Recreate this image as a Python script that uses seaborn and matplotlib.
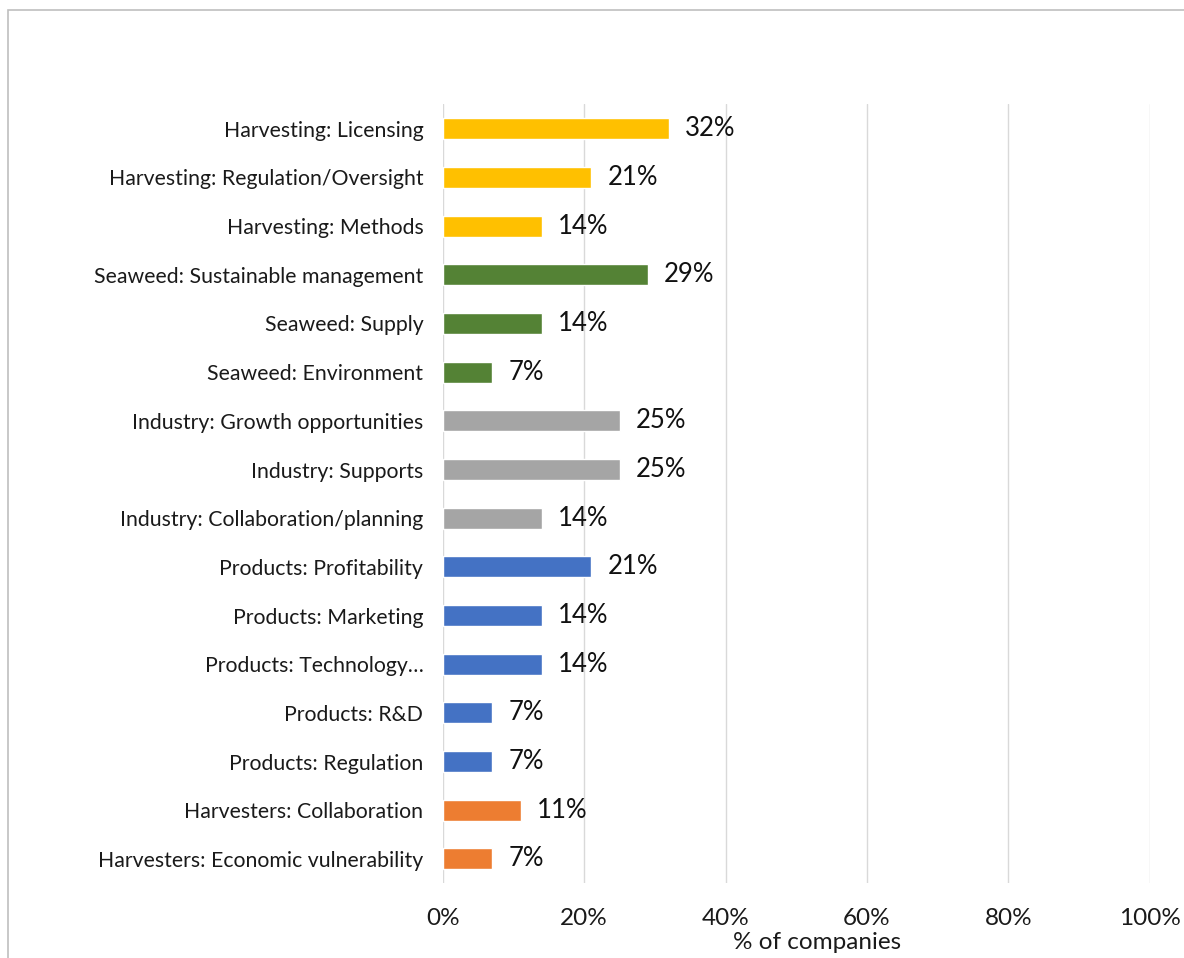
import matplotlib
matplotlib.use("Agg")
import matplotlib.pyplot as plt
from matplotlib.patches import Rectangle
from matplotlib.ticker import FuncFormatter
import seaborn as sns
import pandas as pd

categories = [
    "Harvesting: Licensing",
    "Harvesting: Regulation/Oversight",
    "Harvesting: Methods",
    "Seaweed: Sustainable management",
    "Seaweed: Supply",
    "Seaweed: Environment",
    "Industry: Growth opportunities",
    "Industry: Supports",
    "Industry: Collaboration/planning",
    "Products: Profitability",
    "Products: Marketing",
    "Products: Technology\u2026",
    "Products: R&D",
    "Products: Regulation",
    "Harvesters: Collaboration",
    "Harvesters: Economic vulnerability",
]
values = [32, 21, 14, 29, 14, 7, 25, 25, 14, 21, 14, 14, 7, 7, 11, 7]
groups = ["Harvesting"] * 3 + ["Seaweed"] * 3 + ["Industry"] * 3 + ["Products"] * 5 + ["Harvesters"] * 2
group_colors = {
    "Harvesting": "#FFC000",
    "Seaweed": "#548235",
    "Industry": "#A5A5A5",
    "Products": "#4472C4",
    "Harvesters": "#ED7D31",
}
x_ticks = [0, 20, 40, 60, 80, 100]
x_label = "% of companies"

df = pd.DataFrame({"category": categories, "value": values, "group": groups})

sns.set_theme(style="white")
plt.rcParams["font.family"] = ["Lato", "DejaVu Sans"]

fig = plt.figure(figsize=(11.84, 9.58), dpi=100)
ax = fig.add_axes([0.374, 0.078, 0.597, 0.813])

sns.barplot(
    data=df, y="category", x="value", hue="group", palette=group_colors,
    order=categories, orient="h", dodge=False, width=0.43, legend=False,
    saturation=1, ax=ax,
)

ax.set_xlim(0, 100)
ax.set_ylim(len(categories) - 0.5, -0.5)
ax.set_xticks(x_ticks)
ax.xaxis.set_major_formatter(FuncFormatter(lambda v, _: f"{v:.0f}%"))
ax.grid(axis="x", color="#D9D9D9", linewidth=1.0)
ax.set_axisbelow(True)
for s in ax.spines.values():
    s.set_visible(False)
ax.tick_params(axis="both", length=0)
ax.tick_params(axis="y", labelsize=15.3, labelcolor="#1a1a1a", pad=14)
ax.tick_params(axis="x", labelsize=17.5, labelcolor="#1a1a1a", pad=18)
ax.set_ylabel("")
ax.set_xlabel(x_label, fontsize=17.5, color="#1a1a1a", labelpad=3)
ax.xaxis.set_label_coords(0.529, -0.062)

for i, v in enumerate(values):
    ax.text(v + 2.3, i, f"{v}%", va="center", ha="left", fontsize=18.5, color="#111111")

fig.patches.append(Rectangle((8 / 1184, -0.05), 1.1, 1 - 10 / 958 + 0.05,
                             transform=fig.transFigure, fill=False,
                             edgecolor="#BFBFBF", linewidth=1.2))

fig.savefig("out.png", dpi=100, facecolor="white")
